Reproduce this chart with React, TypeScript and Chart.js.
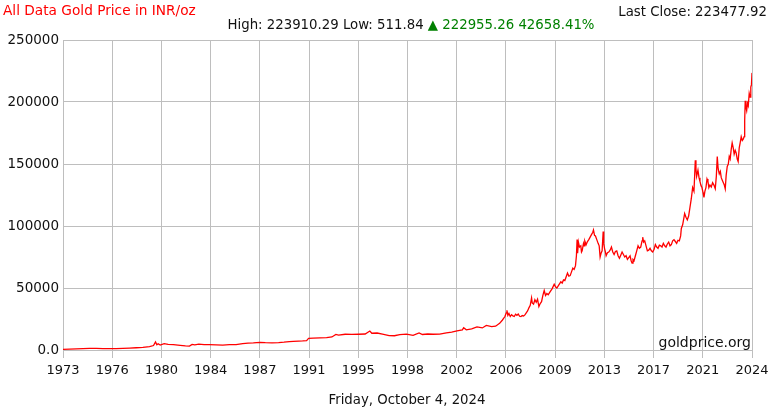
import React, { useEffect, useRef } from "react";
import { Chart, registerables } from "chart.js";

Chart.register(...registerables);

// ---- Data ----
const years: number[] = [
  1973.0, 1973.5, 1974.0, 1974.5, 1975.0, 1975.5, 1976.0, 1976.5, 1977.0, 1977.5,
  1978.0, 1978.5, 1979.0, 1979.5, 1979.8, 1979.95, 1980.05, 1980.15, 1980.3, 1980.6,
  1980.9, 1981.3, 1981.8, 1982.2, 1982.5, 1982.7, 1982.9, 1983.2, 1983.6, 1984.0,
  1984.5, 1985.0, 1985.5, 1986.0, 1986.5, 1986.9, 1987.3, 1987.8, 1988.2, 1988.7,
  1989.2, 1989.6, 1990.0, 1990.3, 1990.7, 1991.0, 1991.3, 1991.45, 1991.8, 1992.3,
  1992.8, 1993.2, 1993.5, 1993.7, 1994.2, 1994.7, 1995.2, 1995.7, 1996.05, 1996.2,
  1996.6, 1997.0, 1997.5, 1997.9, 1998.3, 1998.8, 1999.3, 1999.75, 2000.0, 2000.4,
  2000.8, 2001.3, 2001.8, 2002.2, 2002.6, 2003.0, 2003.1, 2003.3, 2003.7, 2004.1,
  2004.5, 2004.8, 2005.2, 2005.5, 2005.8,
  2006.0, 2006.1, 2006.2, 2006.3, 2006.35, 2006.42, 2006.5, 2006.6, 2006.7, 2006.8,
  2006.9, 2007.0, 2007.1, 2007.2, 2007.3, 2007.4, 2007.5, 2007.6, 2007.7, 2007.8,
  2007.9, 2008.0, 2008.1, 2008.2, 2008.25, 2008.35, 2008.45, 2008.55, 2008.65, 2008.75,
  2008.85, 2008.95, 2009.05, 2009.15, 2009.25, 2009.35, 2009.45, 2009.6, 2009.75, 2009.9,
  2010.0, 2010.1, 2010.25, 2010.4, 2010.5, 2010.6, 2010.7, 2010.8, 2010.9, 2011.0,
  2011.1, 2011.2, 2011.3, 2011.4, 2011.5, 2011.57, 2011.62, 2011.66, 2011.72, 2011.8,
  2011.9, 2011.95, 2012.0, 2012.1, 2012.15, 2012.2, 2012.3, 2012.4, 2012.5, 2012.6,
  2012.7, 2012.8, 2012.85, 2012.93, 2013.0, 2013.1, 2013.2, 2013.28, 2013.35, 2013.42,
  2013.5, 2013.58, 2013.62, 2013.68, 2013.75, 2013.8, 2013.9, 2014.0, 2014.1, 2014.2,
  2014.3, 2014.4, 2014.5, 2014.6, 2014.7, 2014.8, 2014.9, 2015.0, 2015.1, 2015.2,
  2015.3, 2015.4, 2015.5, 2015.6, 2015.68, 2015.75, 2015.82, 2015.9, 2016.0, 2016.1,
  2016.2, 2016.3, 2016.4, 2016.5, 2016.55, 2016.62, 2016.7, 2016.8, 2016.9, 2017.0,
  2017.1, 2017.2, 2017.3, 2017.4, 2017.5, 2017.6, 2017.7, 2017.8, 2017.9, 2018.0,
  2018.1, 2018.2, 2018.3, 2018.4, 2018.5, 2018.6, 2018.7, 2018.8, 2018.9, 2019.0,
  2019.1, 2019.2, 2019.3, 2019.4, 2019.45, 2019.55, 2019.6, 2019.7, 2019.8, 2019.9,
  2020.0, 2020.1, 2020.2, 2020.3, 2020.4, 2020.45, 2020.5, 2020.55, 2020.6, 2020.7,
  2020.78, 2020.85, 2020.92, 2021.0, 2021.08, 2021.15, 2021.22, 2021.3, 2021.38, 2021.45,
  2021.52, 2021.6, 2021.7, 2021.8, 2021.9, 2022.0, 2022.08, 2022.15, 2022.22, 2022.3,
  2022.38, 2022.45, 2022.52, 2022.6, 2022.68, 2022.75, 2022.82, 2022.9, 2022.98, 2023.05,
  2023.12, 2023.2, 2023.27, 2023.35, 2023.42, 2023.5, 2023.57, 2023.65, 2023.72, 2023.8,
  2023.87, 2023.95, 2024.03, 2024.1, 2024.17, 2024.21, 2024.25, 2024.3, 2024.36, 2024.42,
  2024.48, 2024.55, 2024.62, 2024.67, 2024.72, 2024.76,
];

const prices: number[] = [
  560, 700, 900, 1150, 1350, 1250, 1100, 1050, 1150, 1300,
  1550, 1800, 2100, 2800, 3600, 6500, 4200, 5000, 4000, 5200,
  4600, 4300, 3700, 3300, 3100, 4500, 4200, 4700, 4300, 4400,
  4200, 4000, 4300, 4400, 5200, 5600, 5700, 6100, 5900, 5800,
  6000, 6300, 6700, 6900, 7100, 7300, 7600, 9400, 9600, 9800,
  10000, 10500, 12600, 12000, 12700, 12600, 12700, 12900, 15300, 13500,
  13700, 12800, 11600, 11500, 12400, 12800, 11800, 13800, 12500, 12900,
  12700, 12800, 13800, 14500, 15500, 16200, 18000, 16300, 17000, 18600,
  17800, 19800, 18800, 19200, 21500,
  24000, 25500, 27000, 30000, 32000, 28000, 29500, 27000, 28500, 27500,
  27000, 28800, 28000, 29000, 27200, 27000, 27800, 27400, 28300, 30000,
  31500, 34000, 36000, 42000, 38000, 37000, 40500, 38500, 41000, 35000,
  37500, 39000, 44000, 48000, 44000, 45500, 44500, 47000, 49500, 53000,
  51000, 50000, 52500, 55000, 54000, 56500, 56000, 59000, 62000, 59500,
  60000, 63000, 66000, 65000, 68000, 76000, 89000, 78000, 87000, 83000,
  84000, 79000, 80000, 86000, 84000, 88000, 85000, 87500, 89000, 91000,
  93000, 95000, 96800, 92500, 92000, 89000, 86000, 84000, 75000, 78000,
  80000, 95500, 86000, 82000, 79000, 76000, 78500, 79000, 80500, 83000,
  79000, 77000, 79500, 80000, 76000, 74000, 76500, 79000, 77000, 75000,
  76000, 73000, 74500, 76000, 72000, 70000, 73000, 72000, 76000, 80000,
  84000, 82000, 83000, 88000, 91000, 87000, 88000, 84000, 80000, 80500,
  82000, 80000, 79000, 81000, 85000, 83000, 82000, 84500, 84000, 83000,
  86000, 84000, 83000, 85500, 87000, 84000, 85000, 88000, 89000, 87500,
  86000, 88500, 88000, 92000, 98000, 101000, 104000, 110000, 107000, 105000,
  108000, 115000, 122000, 131000, 128000, 140000, 153000, 146000, 140000, 145000,
  139000, 136000, 133000, 131000, 127000, 123000, 128000, 131000, 138000, 136000,
  131000, 133000, 131500, 135000, 133000, 130000, 140000, 156000, 146000, 142000,
  144000, 139000, 137000, 135000, 133000, 130000, 141000, 148000, 150000, 156000,
  154000, 162000, 167000, 163000, 158000, 161000, 159000, 154000, 152000, 163000,
  167000, 172000, 169000, 170000, 172000, 185000, 201000, 196000, 193000, 199000,
  197000, 207000, 204000, 212000, 214000, 223477,
];

const xTickLabels: string[] = [
  "1973", "1976", "1980", "1984", "1987", "1991", "1995", "1998",
  "2002", "2006", "2009", "2013", "2017", "2021", "2024",
];
const yTickValues: number[] = [0, 50000, 100000, 150000, 200000, 250000];
const yTickLabels: string[] = ["0.0", "50000", "100000", "150000", "200000", "250000"];

const titleText = "All Data Gold Price in INR/oz";
const lastCloseText = "Last Close: 223477.92";
const statsBlack = "High: 223910.29 Low: 511.84 ";
const statsGreen = "\u25B2 222955.26 42658.41%";
const dateText = "Friday, October 4, 2024";
const brandText = "goldprice.org";

const X_MIN = 1973.0;
const X_MAX = 2024.76;
const FONT = "'DejaVu Sans', Verdana, sans-serif";
const GRID = "rgb(190,190,190)";

const textPlugin = {
  id: "texts",
  afterDraw(chart: any) {
    const ctx = chart.ctx as CanvasRenderingContext2D;
    const area = chart.chartArea;
    ctx.save();
    ctx.textBaseline = "alphabetic";
    // Title
    ctx.font = `13.7px ${FONT}`;
    ctx.fillStyle = "rgb(255,0,0)";
    ctx.textAlign = "left";
    ctx.fillText(titleText, 3, 15);
    // Last close
    ctx.font = `13.3px ${FONT}`;
    ctx.fillStyle = "#111";
    ctx.textAlign = "right";
    ctx.fillText(lastCloseText, 767, 16);
    // Stats line
    const wb = ctx.measureText(statsBlack).width;
    const wg = ctx.measureText(statsGreen).width;
    const startX = 411 - (wb + wg) / 2;
    ctx.textAlign = "left";
    ctx.fillStyle = "#111";
    ctx.fillText(statsBlack, startX, 29);
    ctx.fillStyle = "rgb(0,128,0)";
    ctx.fillText(statsGreen, startX + wb, 29);
    // Date
    ctx.fillStyle = "#111";
    ctx.textAlign = "center";
    ctx.fillText(dateText, 407, 404);
    // Brand
    ctx.font = `14px ${FONT}`;
    ctx.textAlign = "right";
    ctx.fillText(brandText, area.right - 1, 347);
    ctx.restore();
  },
};

export default function App() {
  const ref = useRef<HTMLCanvasElement | null>(null);

  useEffect(() => {
    if (!ref.current) return;
    const points = years.map((y, i) => ({ x: y, y: prices[i] }));
    const chart = new Chart(ref.current, {
      type: "line",
      data: {
        datasets: [
          {
            data: points,
            borderColor: "rgb(255,0,0)",
            borderWidth: 1.3,
            pointRadius: 0,
            tension: 0,
            fill: false,
          },
        ],
      },
      options: {
        responsive: false,
        animation: false,
        devicePixelRatio: 1,
        layout: { padding: { top: 40, right: 18, left: 0, bottom: 0 } },
        plugins: { legend: { display: false }, tooltip: { enabled: false } },
        scales: {
          x: {
            type: "linear",
            min: X_MIN,
            max: X_MAX,
            afterBuildTicks: (scale: any) => {
              scale.ticks = xTickLabels.map((_, i) => ({
                value: X_MIN + (i * (X_MAX - X_MIN)) / (xTickLabels.length - 1),
              }));
            },
            afterFit: (scale: any) => {
              scale.height = 60;
              scale.paddingRight = 0;
              scale.paddingLeft = 0;
            },
            grid: { color: GRID, lineWidth: 1, drawTicks: true, tickLength: 8, tickColor: GRID },
            border: { color: GRID },
            ticks: {
              autoSkip: false,
              maxRotation: 0,
              padding: 5,
              color: "#111",
              font: { family: FONT, size: 13 },
              callback: (_v: any, i: number) => xTickLabels[i],
            },
          },
          y: {
            type: "linear",
            min: 0,
            max: 250000,
            afterBuildTicks: (scale: any) => {
              scale.ticks = yTickValues.map((v) => ({ value: v }));
            },
            afterFit: (scale: any) => {
              scale.width = 63;
            },
            grid: { color: GRID, lineWidth: 1, drawTicks: false },
            border: { color: GRID },
            ticks: {
              padding: 4,
              color: "#111",
              font: { family: FONT, size: 13.5 },
              callback: (_v: any, i: number) => yTickLabels[i],
            },
          },
        },
      },
      plugins: [textPlugin],
    });
    return () => chart.destroy();
  }, []);

  return (
    <div style={{ position: "absolute", left: 0, top: 0, width: 770, height: 410, background: "#fff" }}>
      <canvas ref={ref} width={770} height={410} style={{ display: "block" }} />
    </div>
  );
}
